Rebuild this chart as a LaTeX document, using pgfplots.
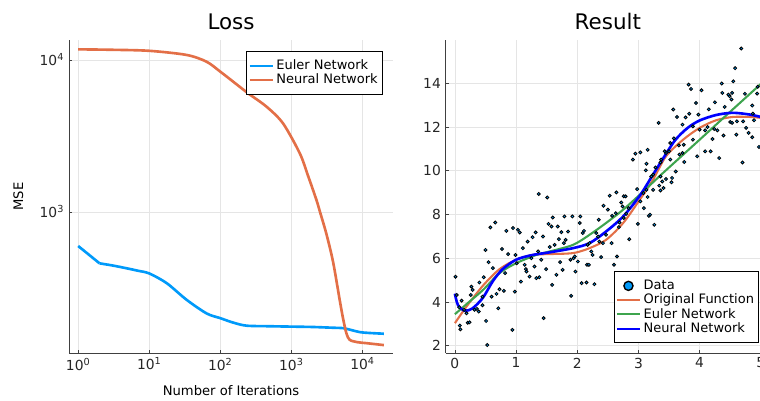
\documentclass[border=0pt]{standalone}
\usepackage{fontspec}
\setmainfont{DejaVu Sans}
\usepackage{pgfplots}
\pgfplotsset{compat=1.18}
\definecolor{cblue}{HTML}{009AFA}
\definecolor{corange}{HTML}{E36F47}
\definecolor{cgreen}{HTML}{3EA44E}

\pgfplotsset{
  juliastyle/.style={
    scale only axis,
    axis lines*=left,
    axis line style={-, black!75, line width=0.7pt},
    grid=major,
    grid style={black!10, line width=0.5pt},
    tick style={black!75, line width=0.5pt},
    major tick length=2.5pt,
    tick align=inside,
    ticklabel style={font=\fontsize{10}{12}\selectfont, text=black!85},
    /pgf/number format/assume math mode=true,
    title style={font=\fontsize{15.5}{18}\selectfont, yshift=-2pt},
    label style={font=\fontsize{9.5}{11}\selectfont},
    xlabel shift=4pt,
    ylabel shift=5pt,
    legend style={font=\fontsize{9.4}{10.4}\selectfont, draw=black, line width=0.6pt,
                  inner xsep=1.5pt, inner ysep=4pt, row sep=-2.3pt, cells={anchor=west}},
    legend cell align=left,
  },
  legline/.style={legend image code/.code={\draw[draw=#1, line width=1.5pt] (0cm,0cm) -- (0.58cm,0cm);}},
}

\begin{document}
\begin{tikzpicture}
\begin{axis}[juliastyle,
    at={(17.53mm,12.19mm)}, anchor=south west,
    width=82.30mm, height=79.50mm,
    xmode=log, ymode=log,
    xmin=0.743, xmax=26900, ymin=118, ymax=13550,
    xminorticks=false, yminorticks=false,
    xtick={1,10,100,1000,10000},
    xticklabels={10\textsuperscript{0},10\textsuperscript{1},10\textsuperscript{2},10\textsuperscript{3},10\textsuperscript{4}},
    ytick={1000,10000},
    yticklabels={10\textsuperscript{3},10\textsuperscript{4}},
    title={Loss},
    xlabel={Number of Iterations},
    ylabel={MSE},
    legend style={at={(0.969,0.965)}, anchor=north east},
]
% Euler network loss
\addplot[cblue, line width=1.9pt, smooth, legline=cblue] coordinates {
  (2,459) (3,445) (4.8,426) (7,410) (10,394) (17.6,340) (33.6,264) (64,215)
  (100,200) (152,187) (234,178.5) (500,177) (1000,176) (2000,175) (3855,173)
  (5320,172) (7000,167) (9120,162) (12000,160) (20000,158)};
\addplot[cblue, line width=1.9pt, forget plot] coordinates {(1,597) (2,459)};
% Neural network loss
\addplot[corange, line width=1.9pt, smooth, legline=corange] coordinates {
  (1,11760) (3,11680) (10,11500) (33.6,10800) (64,9750) (100,8380) (152,7200)
  (246,6040) (447,4930) (762,3830) (1313,2430) (1700,1750) (2250,1200)
  (2510,1010) (3100,720) (3855,470) (4790,262) (5320,200)
  (5940,159) (6610,144) (8500,139) (11300,137) (20000,133)};
\legend{Euler Network, Neural Network}
\end{axis}

\begin{axis}[juliastyle,
    at={(113.21mm,12.19mm)}, anchor=south west,
    width=82.37mm, height=79.50mm,
    xmin=-0.15, xmax=5.15, ymin=1.666, ymax=15.98,
    xtick={0,1,2,3,4,5}, ytick={2,4,6,8,10,12,14},
    title={Result},
    legend style={at={(0.967,0.031)}, anchor=south east},
]
\addplot[only marks, mark=*, mark size=1.1pt,
    mark options={fill=cblue, draw=black, line width=0.6pt},
    legend image code/.code={\draw[fill=cblue, draw=black, line width=1pt] (0.29cm,0cm) circle (3.3pt);}]
  coordinates {
  (0.01,5.15) (0.03,4.32) (0.07,3.76) (0.08,2.92) (0.09,2.75) (0.11,4.06)
  (0.15,3.64) (0.19,3.48) (0.21,3.05) (0.24,3.07) (0.27,4.70) (0.29,4.55)
  (0.26,4.32) (0.40,4.89) (0.32,3.64) (0.36,3.68) (0.39,3.56) (0.45,4.24)
  (0.45,3.85) (0.47,5.13) (0.50,6.38) (0.51,3.13) (0.53,2.03) (0.55,5.82)
  (0.58,7.41) (0.60,4.24) (0.62,5.55) (0.66,7.63) (0.68,4.37) (0.71,3.71)
  (0.73,4.58) (0.77,6.42) (0.80,4.51) (0.82,5.32) (0.84,7.25) (0.87,6.19)
  (0.94,2.72) (0.98,4.47) (0.95,7.38) (0.99,6.15) (1.03,7.30) (1.06,7.18)
  (1.01,5.77) (1.08,4.93) (1.11,6.46) (1.14,5.70) (1.16,5.50) (1.19,6.76)
  (1.17,5.39) (1.22,5.16) (1.25,6.00) (1.27,6.96) (1.30,5.62) (1.32,7.18)
  (1.33,5.09) (1.36,6.31) (1.38,5.13) (1.41,5.93) (1.44,6.99) (1.45,3.26)
  (1.49,5.50) (1.53,7.57) (1.58,7.45) (1.55,6.51) (1.60,7.86) (1.59,4.78)
  (1.63,6.61) (1.66,5.24) (1.68,7.45) (1.70,6.87) (1.72,5.82) (1.74,7.19)
  (1.76,5.47) (1.78,6.69) (1.79,7.91) (1.81,6.84) (1.85,7.22) (1.89,5.93)
  (1.90,4.28) (1.92,7.91) (1.94,6.00) (1.96,6.08) (1.97,5.39) (2.01,5.85)
  (2.04,7.61) (2.05,7.91) (2.07,4.86) (2.09,7.15) (2.11,7.25) (2.15,4.89)
  (2.16,5.70) (2.19,5.70) (2.17,6.61) (2.20,6.69) (2.23,6.31) (2.25,6.15)
  (2.28,4.81) (2.31,7.15) (2.34,6.99) (2.35,7.76) (2.36,6.76) (2.39,6.05)
  (2.42,6.69) (2.43,8.40) (2.47,7.07) (2.50,8.22) (2.56,6.69) (2.57,7.94)
  (2.60,5.70) (2.63,8.06) (2.65,6.08) (2.68,7.42) (2.69,7.63) (2.72,8.55)
  (2.74,8.37) (2.76,7.84) (2.80,8.03) (2.85,6.87) (2.84,8.29) (2.99,7.57)
  (3.03,8.60) (3.09,8.29) (3.17,7.94) (3.19,7.99) (3.26,7.53)
  (1.37,8.94) (1.51,8.78) (2.53,8.86) (2.64,9.01) (2.76,8.83) (2.79,8.83)
  (2.98,9.16) (3.08,8.98) (3.15,8.80) (3.13,9.13) (3.24,9.13) (3.34,9.32)
  (3.41,9.21) (3.36,9.10) (3.24,9.82) (3.21,9.74) (3.36,9.74) (3.39,9.51)
  (3.45,9.62) (3.55,9.67) (3.54,9.47) (3.61,9.97) (3.12,10.02) (3.28,10.15)
  (3.13,10.32) (3.36,10.38) (2.91,10.51) (2.95,10.78) (3.03,10.84) (3.15,10.96)
  (3.37,10.51) (3.52,10.51) (3.45,10.81) (3.43,10.89) (3.50,10.89) (3.67,10.74)
  (3.72,10.81) (3.75,10.40) (3.96,10.66) (4.09,10.89) (4.18,10.89) (4.32,10.58)
  (4.70,10.38) (4.97,11.09) (3.66,11.16) (3.74,11.19) (3.52,11.27) (3.58,11.48)
  (3.89,11.42) (4.21,11.45) (4.39,11.61) (4.60,11.65) (4.80,11.73) (4.86,11.53)
  (4.00,11.88) (4.09,11.85) (4.13,12.00) (4.24,11.91) (4.29,11.85) (4.76,11.96)
  (3.33,12.19) (3.72,12.11) (3.89,12.03) (4.50,12.23) (4.53,12.19) (4.61,12.26)
  (4.71,12.26) (4.89,12.31) (4.87,12.61) (3.63,12.46) (3.77,12.44) (3.98,12.57)
  (3.83,12.61) (3.57,12.80) (4.15,12.81) (4.41,12.92) (4.86,12.98) (3.94,13.10)
  (4.25,13.13) (4.52,13.26) (4.49,13.41) (4.47,13.48) (4.53,13.56) (4.37,13.56)
  (4.74,13.52) (4.94,13.53) (4.03,13.68) (3.86,13.74) (4.95,13.84) (3.82,13.94)
  (4.36,13.99) (4.55,14.09) (4.58,14.69) (4.68,15.59)};
\addplot[corange, line width=1.5pt, smooth, legline=corange] coordinates {
  (0,3.03) (0.19,3.79) (0.46,4.75) (0.73,5.50) (1.0,5.93) (1.27,6.15)
  (1.55,6.19) (1.82,6.21) (1.98,6.26) (2.2,6.46) (2.47,6.84) (2.75,7.61)
  (3.02,8.67) (3.24,9.60) (3.45,10.66) (3.73,11.42) (4.0,11.96) (4.27,12.31)
  (4.54,12.46) (4.82,12.46) (5.0,12.42)};
\addplot[cgreen, line width=1.5pt, smooth, legline=cgreen] coordinates {
  (0,3.44) (0.24,4.02) (0.46,4.55) (0.73,5.32) (1.0,5.77) (1.33,6.15)
  (1.55,6.31) (1.93,6.61) (2.2,7.07) (2.47,7.61) (2.75,8.22) (3.02,8.90)
  (3.34,9.74) (3.5,10.15) (4.0,11.42) (4.5,12.70) (5.0,13.97)};
\addplot[blue, line width=1.9pt, smooth, legline=blue] coordinates {
  (0,4.38) (0.05,3.86) (0.16,3.60) (0.29,3.71) (0.46,4.20) (0.62,4.95)
  (0.78,5.50) (1.0,5.93) (1.22,6.12) (1.38,6.20) (1.55,6.27) (1.93,6.46)
  (2.2,6.69) (2.47,7.22) (2.75,7.91) (3.02,8.85) (3.2,9.65) (3.4,10.55)
  (3.6,11.40) (3.8,11.95) (4.0,12.30) (4.27,12.55) (4.54,12.65) (4.82,12.57)
  (5.0,12.46)};
\legend{Data, Original Function, Euler Network, Neural Network}
\end{axis}
\pgfresetboundingbox
\path[use as bounding box] (0,0) rectangle (193.04mm,101.85mm);
\end{tikzpicture}
\end{document}
